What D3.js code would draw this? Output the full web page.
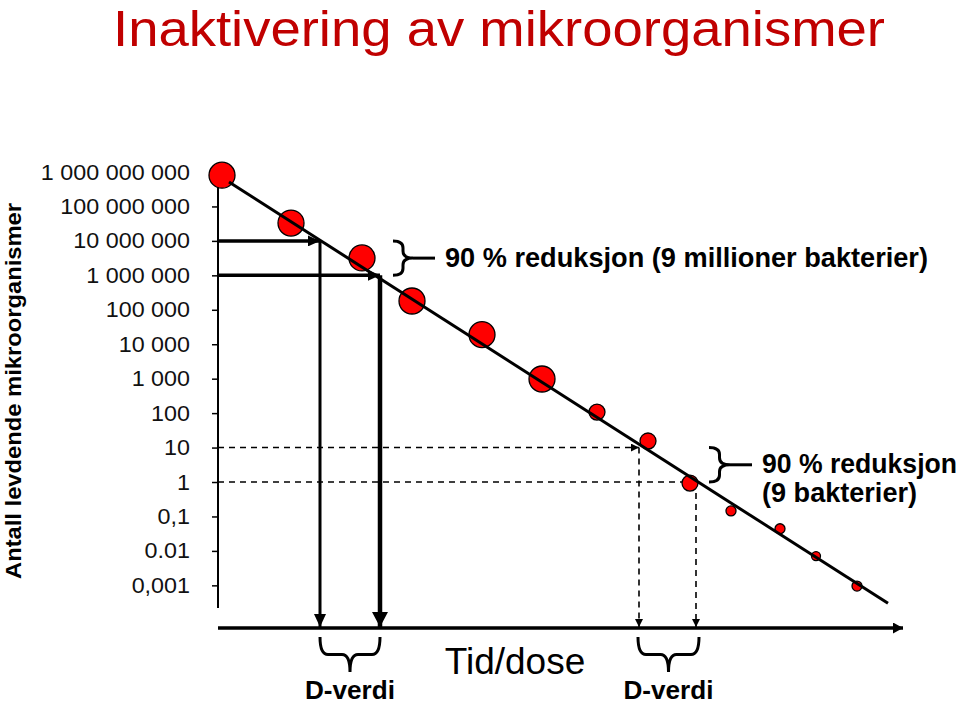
<!DOCTYPE html>
<html>
<head>
<meta charset="utf-8">
<script src="https://cdn.jsdelivr.net/npm/d3@7"></script>
<style>
  html, body { margin: 0; padding: 0; background: #fff; }
  svg { display: block; font-family: "Liberation Sans", Arial, Helvetica, sans-serif; }
</style>
</head>
<body>
<svg id="chart" width="960" height="705"></svg>
<script>
// ---------- DATA ----------
const titleText = "Inaktivering av mikroorganismer";
const yAxisTitle = "Antall levdende mikroorganismer";
const xAxisTitle = "Tid/dose";

const tickValues = [1e9, 1e8, 1e7, 1e6, 1e5, 1e4, 1e3, 100, 10, 1, 0.1, 0.01, 0.001];
const tickLabels = ["1 000 000 000", "100 000 000", "10 000 000", "1 000 000", "100 000",
                    "10 000", "1 000", "100", "10", "1", "0,1", "0.01", "0,001"];

// measured samples: time (arbitrary units) and surviving count
const sampleTime  = [0.4, 7.3, 14.4, 19.4, 26.4, 32.4, 37.9, 43.0, 47.2, 51.3, 56.2, 59.8, 63.9];
const sampleCount = [8.1e8, 3.3e7, 3.2e6, 1.8e5, 1.9e4, 980, 107, 15.5, 0.93, 0.145, 0.044, 0.0071, 0.00095];

// fitted straight line (log-linear inactivation)
const fitTime  = [1.1, 67.0];
const fitCount = [5.1e8, 3.0e-4];

// D-value read-offs
const dLevelsSolid  = [1e7, 1e6];
const dTimesSolid   = [10.2, 16.2];
const dLevelsDashed = [10, 1];
const dTimesDashed  = [42.1, 47.8];

// annotations
const reductionLabelTop = "90 % reduksjon (9 millioner bakterier)";
const reductionLabelLow = ["90 % reduksjon", "(9 bakterier)"];
const dValueLabel = "D-verdi";

// ---------- STYLE / LAYOUT ----------
const pointRadius = [13, 13, 13, 13, 13, 13, 8, 8, 8, 5, 5, 4.5, 5];
const timeDomain = [0, 68.5];
const countDomain = [2.2e-4, 1e9];
const plotLeft = 218, plotRight = 903, plotTop = 172, plotBottom = 608;
const xAxisY = 628;

const svg = d3.select("#chart");
const x = d3.scaleLinear().domain(timeDomain).range([plotLeft, plotRight]);
const y = d3.scaleLog().domain(countDomain).range([plotBottom, plotTop]);

function stretch(sel, factor) {
  sel.each(function () {
    const len = this.getComputedTextLength();
    d3.select(this).attr("textLength", len * factor).attr("lengthAdjust", "spacingAndGlyphs");
  });
}

// defs: arrow markers
const defs = svg.append("defs");
function marker(id, len, half) {
  defs.append("marker")
    .attr("id", id).attr("markerUnits", "userSpaceOnUse")
    .attr("viewBox", `0 ${-half} ${len} ${2 * half}`)
    .attr("refX", len).attr("refY", 0)
    .attr("markerWidth", len).attr("markerHeight", 2 * half)
    .attr("orient", "auto")
    .append("path").attr("d", `M0,${-half}L${len},0L0,${half}Z`).attr("fill", "#000");
}
marker("ahH", 12, 5.5);
marker("ahV1", 13, 6);
marker("ahV2", 15, 8);
marker("ahD", 8, 4);
marker("ahX", 10, 5.5);

// Title
svg.append("text")
  .attr("x", 113).attr("y", 46)
  .attr("font-size", 50).attr("fill", "#C00000")
  .attr("textLength", 772).attr("lengthAdjust", "spacingAndGlyphs")
  .text(titleText);

// Y axis title
svg.append("text")
  .attr("transform", `translate(21,${(202 + 580) / 2}) rotate(-90)`)
  .attr("text-anchor", "middle")
  .attr("font-size", 22).attr("font-weight", "bold")
  .attr("textLength", 376).attr("lengthAdjust", "spacingAndGlyphs")
  .text(yAxisTitle);

// Y axis
const yAxis = d3.axisLeft(y)
  .tickValues(tickValues)
  .tickFormat((d, i) => tickLabels[i])
  .tickSize(6)
  .tickPadding(22);
const gy = svg.append("g").attr("transform", `translate(${plotLeft},0)`).call(yAxis);
gy.select(".domain").remove();
gy.selectAll(".tick line").attr("stroke", "#000").attr("stroke-width", 1.5);
gy.selectAll(".tick text")
  .attr("font-size", 22).attr("font-family", "Liberation Sans, Arial, sans-serif")
  .attr("fill", "#111");
stretch(gy.selectAll(".tick text"), 1.06);
svg.append("line")
  .attr("x1", plotLeft).attr("x2", plotLeft)
  .attr("y1", y(countDomain[1])).attr("y2", y(countDomain[0]))
  .attr("stroke", "#000").attr("stroke-width", 2);

// X axis (arrow)
svg.append("line")
  .attr("x1", plotLeft).attr("x2", x(timeDomain[1]))
  .attr("y1", xAxisY).attr("y2", xAxisY)
  .attr("stroke", "#000").attr("stroke-width", 3.5)
  .attr("marker-end", "url(#ahX)");

svg.append("text")
  .attr("x", 515).attr("y", 674)
  .attr("text-anchor", "middle")
  .attr("font-size", 37)
  .text(xAxisTitle);

// Solid D-value arrows
const gSolid = svg.append("g");
dLevelsSolid.forEach((lvl, i) => {
  gSolid.append("line")
    .attr("x1", plotLeft).attr("x2", x(dTimesSolid[i]))
    .attr("y1", y(lvl)).attr("y2", y(lvl))
    .attr("stroke", "#000").attr("stroke-width", 3.5)
    .attr("marker-end", "url(#ahH)");
  gSolid.append("line")
    .attr("x1", x(dTimesSolid[i])).attr("x2", x(dTimesSolid[i]))
    .attr("y1", y(lvl)).attr("y2", xAxisY - 1)
    .attr("stroke", "#000").attr("stroke-width", i === 0 ? 3 : 4.5)
    .attr("marker-end", i === 0 ? "url(#ahV1)" : "url(#ahV2)");
});

// Dashed D-value arrows
const gDash = svg.append("g");
dLevelsDashed.forEach((lvl, i) => {
  gDash.append("line")
    .attr("x1", plotLeft).attr("x2", x(dTimesDashed[i]))
    .attr("y1", y(lvl)).attr("y2", y(lvl))
    .attr("stroke", "#000").attr("stroke-width", 1.6)
    .attr("stroke-dasharray", "6,5")
    .attr("marker-end", "url(#ahD)");
  gDash.append("line")
    .attr("x1", x(dTimesDashed[i])).attr("x2", x(dTimesDashed[i]))
    .attr("y1", y(lvl)).attr("y2", xAxisY - 1)
    .attr("stroke", "#000").attr("stroke-width", 1.6)
    .attr("stroke-dasharray", "6,5")
    .attr("marker-end", "url(#ahD)");
});

// Sample points
svg.append("g").selectAll("circle")
  .data(sampleTime.map((t, i) => ({ t, c: sampleCount[i], r: pointRadius[i] })))
  .join("circle")
  .attr("cx", d => x(d.t)).attr("cy", d => y(d.c)).attr("r", d => d.r)
  .attr("fill", "#F00").attr("stroke", "#000").attr("stroke-width", 1.3);

// Fitted line
svg.append("path")
  .datum(fitTime.map((t, i) => [t, fitCount[i]]))
  .attr("d", d3.line().x(d => x(d[0])).y(d => y(d[1])))
  .attr("stroke", "#000").attr("stroke-width", 3).attr("fill", "none");

// Braces
function vBrace(x0, y0, y1, w, r) {
  const mx = x0 + w / 2, ym = (y0 + y1) / 2;
  return `M${x0},${y0} Q${mx},${y0} ${mx},${y0 + r} L${mx},${ym - r} Q${mx},${ym} ${x0 + w},${ym}` +
         ` Q${mx},${ym} ${mx},${ym + r} L${mx},${y1 - r} Q${mx},${y1} ${x0},${y1}`;
}
function hBrace(xa, xb, y0, w, r) {
  const my = y0 + w / 2, xm = (xa + xb) / 2;
  return `M${xa},${y0} Q${xa},${my} ${xa + r},${my} L${xm - r},${my} Q${xm},${my} ${xm},${y0 + w}` +
         ` Q${xm},${my} ${xm + r},${my} L${xb - r},${my} Q${xb},${my} ${xb},${y0}`;
}
const gBr = svg.append("g").attr("fill", "none").attr("stroke", "#000").attr("stroke-width", 3);
{
  const y0 = y(dLevelsSolid[0]), y1 = y(dLevelsSolid[1]);
  gBr.append("path").attr("d", vBrace(393, y0, y1, 20, 7));
  gBr.append("line").attr("x1", 413).attr("x2", 435).attr("y1", (y0 + y1) / 2).attr("y2", (y0 + y1) / 2);
}
{
  const y0 = y(dLevelsDashed[0]), y1 = y(dLevelsDashed[1]);
  gBr.append("path").attr("d", vBrace(709, y0, y1, 21, 7));
  gBr.append("line").attr("x1", 730).attr("x2", 752).attr("y1", (y0 + y1) / 2).attr("y2", (y0 + y1) / 2);
}
gBr.append("path").attr("d", hBrace(x(dTimesSolid[0]), x(dTimesSolid[1]), 637, 35, 8));
gBr.append("path").attr("d", hBrace(x(dTimesDashed[0]) - 1, x(dTimesDashed[1]) + 3, 637, 35, 8));

// Annotation labels
svg.append("text")
  .attr("x", 445).attr("y", 267)
  .attr("font-size", 27).attr("font-weight", "bold")
  .attr("textLength", 483).attr("lengthAdjust", "spacingAndGlyphs")
  .text(reductionLabelTop);

svg.append("text")
  .attr("x", 762).attr("y", 473)
  .attr("font-size", 27).attr("font-weight", "bold")
  .attr("textLength", 195).attr("lengthAdjust", "spacingAndGlyphs")
  .text(reductionLabelLow[0]);
svg.append("text")
  .attr("x", 762).attr("y", 502)
  .attr("font-size", 27).attr("font-weight", "bold")
  .attr("textLength", 155).attr("lengthAdjust", "spacingAndGlyphs")
  .text(reductionLabelLow[1]);

[ (x(dTimesSolid[0]) + x(dTimesSolid[1])) / 2, (x(dTimesDashed[0]) + x(dTimesDashed[1])) / 2 + 1 ]
  .forEach(cx => {
    svg.append("text")
      .attr("x", cx).attr("y", 699)
      .attr("text-anchor", "middle")
      .attr("font-size", 25).attr("font-weight", "bold")
      .attr("textLength", 90).attr("lengthAdjust", "spacingAndGlyphs")
      .text(dValueLabel);
  });
</script>
</body>
</html>
